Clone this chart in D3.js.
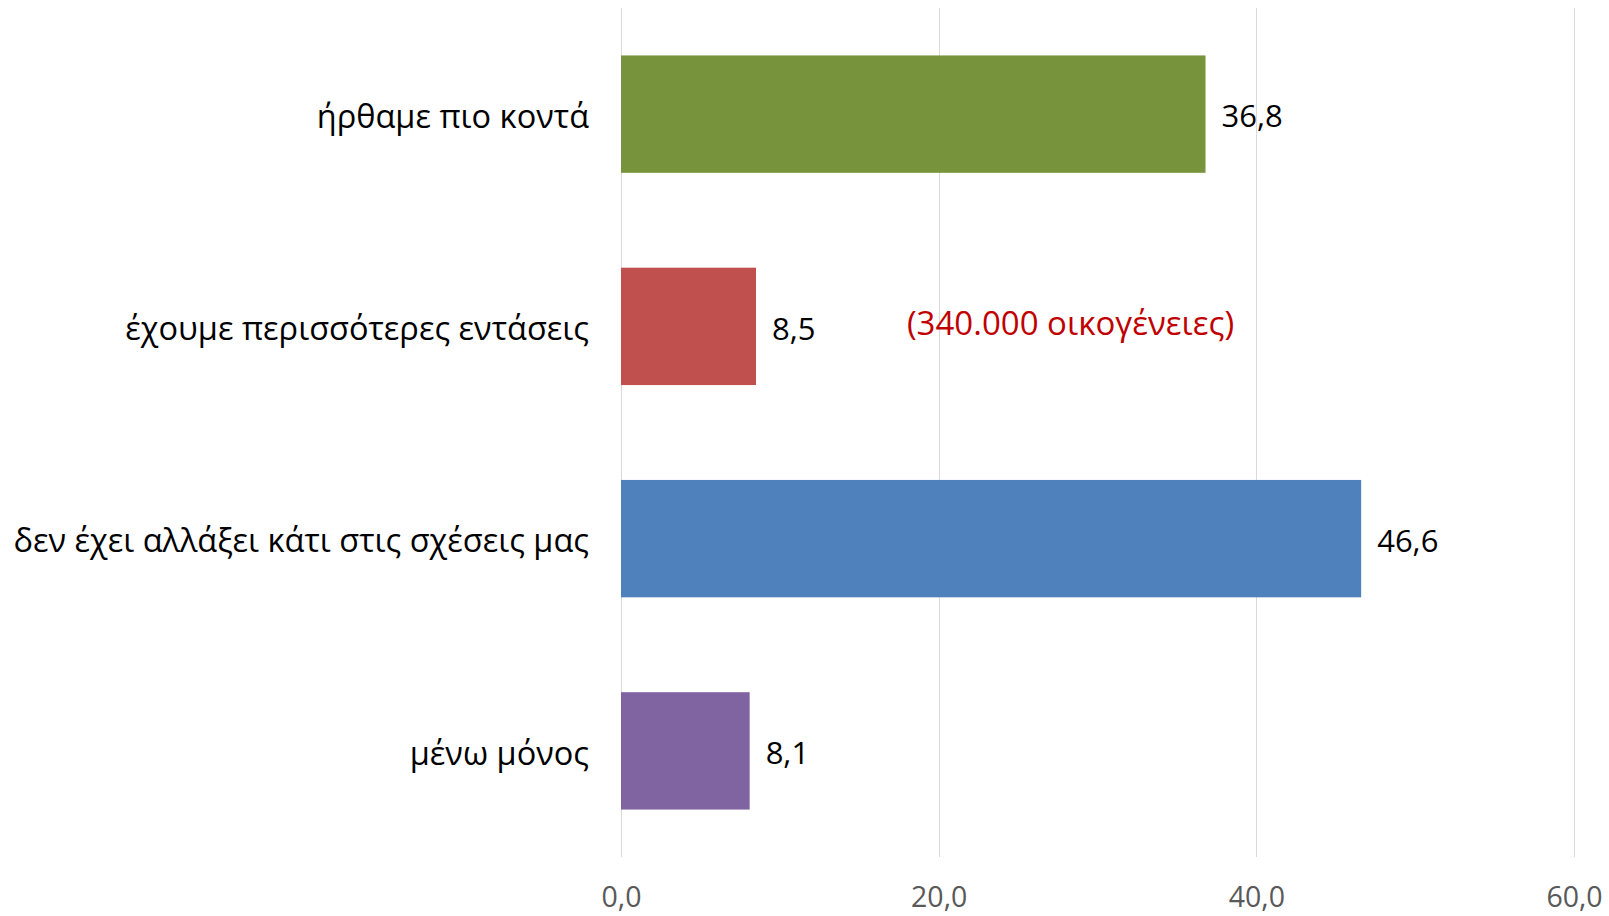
<!DOCTYPE html>
<html>
<head>
<meta charset="utf-8">
<script src="https://cdn.jsdelivr.net/npm/d3@7"></script>
<style>
  html, body { margin: 0; padding: 0; background: #fff; }
  svg { display: block; font-family: "Open Sans", "Noto Sans", sans-serif; }
</style>
</head>
<body>
<div id="chart"></div>
<script>
// Data
const categories = [
  'ήρθαμε πιο κοντά',
  'έχουμε περισσότερες εντάσεις',
  'δεν έχει αλλάξει κάτι στις σχέσεις μας',
  'μένω μόνος'
];
const values = [36.8, 8.5, 46.6, 8.1];
const barColors = ['#77933C', '#C0504D', '#4F81BD', '#8064A2'];
const xTicks = [0, 20, 40, 60];
const note = { text: '(340.000 οικογένειες)', at: 18, category: 'έχουμε περισσότερες εντάσεις' };

const width = 1609, height = 916;
const margin = { top: 8, right: 35, bottom: 59, left: 621 };

const svg = d3.select('#chart').append('svg')
  .attr('width', width)
  .attr('height', height);

const x = d3.scaleLinear()
  .domain([0, 60])
  .range([margin.left, width - margin.right]);

const y = d3.scaleBand()
  .domain(categories)
  .range([margin.top, height - margin.bottom])
  .paddingInner(0.447)
  .paddingOuter(0.2235);

const fmt = v => d3.format('.1f')(v).replace('.', ',');

// Gridlines
svg.append('g')
  .selectAll('line')
  .data(xTicks)
  .join('line')
  .attr('x1', d => Math.round(x(d)) + 0.5)
  .attr('x2', d => Math.round(x(d)) + 0.5)
  .attr('y1', margin.top)
  .attr('y2', height - margin.bottom)
  .attr('stroke', '#d9d9d9')
  .attr('stroke-width', 1);

// X axis labels
const xAxis = svg.append('g')
  .attr('transform', `translate(0,${height - margin.bottom})`)
  .call(d3.axisBottom(x).tickValues(xTicks).tickFormat(fmt).tickSize(0));
xAxis.select('.domain').remove();
xAxis.selectAll('text')
  .attr('y', 50)
  .attr('dy', null)
  .attr('fill', '#595959')
  .style('font-size', '28.5px')
  .style('font-family', '"Open Sans", "Noto Sans", sans-serif');

// Category labels
svg.append('g')
  .selectAll('text')
  .data(categories)
  .join('text')
  .attr('x', margin.left - 32)
  .attr('y', d => y(d) + y.bandwidth() / 2)
  .attr('dy', '0.42em')
  .attr('text-anchor', 'end')
  .attr('fill', '#000')
  .style('font-size', '32.5px')
  .text(d => d);

// Bars
svg.append('g')
  .selectAll('rect')
  .data(values)
  .join('rect')
  .attr('x', x(0))
  .attr('y', (d, i) => y(categories[i]))
  .attr('width', d => x(d) - x(0))
  .attr('height', y.bandwidth())
  .attr('fill', (d, i) => barColors[i]);

// Value labels
svg.append('g')
  .selectAll('text')
  .data(values)
  .join('text')
  .attr('x', d => x(d) + 16)
  .attr('y', (d, i) => y(categories[i]) + y.bandwidth() / 2)
  .attr('dy', '0.43em')
  .attr('fill', '#000')
  .style('font-size', '31px')
  .text(d => fmt(d));

// Annotation
svg.append('text')
  .attr('x', x(note.at))
  .attr('y', y(note.category) + y.bandwidth() / 2)
  .attr('dy', '0.25em')
  .attr('fill', '#C00000')
  .style('font-size', '33px')
  .text(note.text);
</script>
</body>
</html>
